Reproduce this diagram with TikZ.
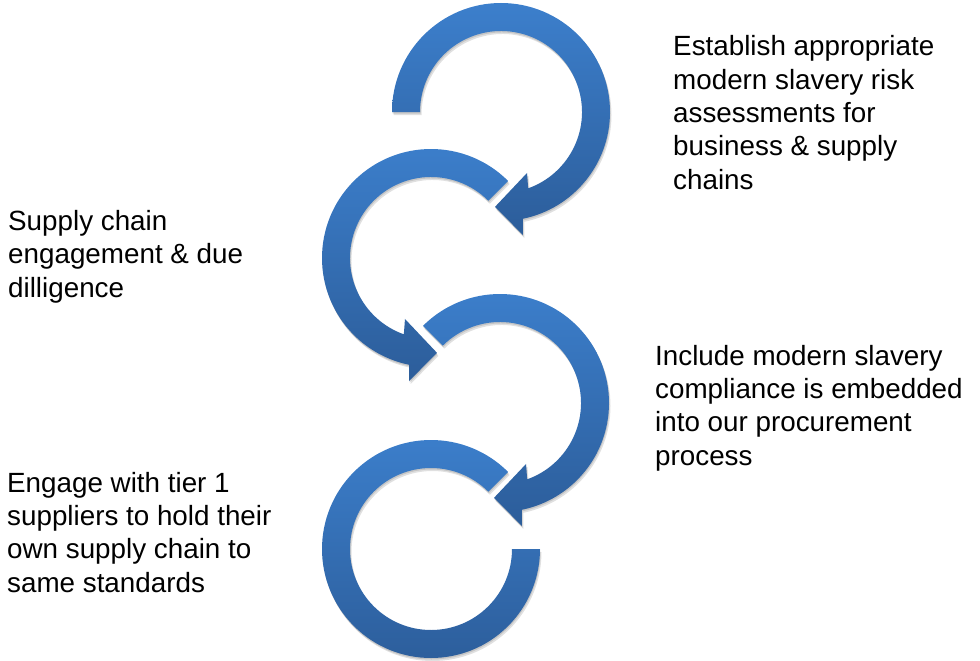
\documentclass[tikz,border=0pt]{standalone}
\usepackage{fontspec}
\setmainfont{Liberation Sans}
\definecolor{arrtop}{RGB}{60,127,204}
\definecolor{arrbot}{RGB}{44,93,154}
\newcommand\cpathA{(180:109) arc[start angle=180, end angle=-78.4, radius=109] -- (-79.9:125) -- (-93.6:95) -- (-66.9:66.3) -- (-70.4:81) arc[start angle=-70.4, end angle=180, radius=81] -- cycle}
\newcommand\cpathB{(45:109) arc[start angle=45, end angle=258.4, radius=109] -- (259.9:125) -- (273.6:95) -- (246.9:66.3) -- (250.4:81) arc[start angle=250.4, end angle=45, radius=81] -- cycle}
\newcommand\cpathC{(135:109) arc[start angle=135, end angle=-78.4, radius=109] -- (-79.9:125) -- (-93.6:95) -- (-66.9:66.3) -- (-70.4:81) arc[start angle=-70.4, end angle=135, radius=81] -- cycle}
\newcommand\cpathD{(45:109) arc[start angle=45, end angle=360, radius=109] -- (360:81) arc[start angle=360, end angle=45, radius=81] -- cycle}
\begin{document}
\begin{tikzpicture}[x=1pt,y=1pt,
  lbl/.style={anchor=base west, inner sep=0pt, align=left, font=\fontsize{27.8}{33.3}\selectfont, text=black},
  shad/.style={fill=black, opacity=0.12},
  arr/.style={top color=arrtop, bottom color=arrbot}]
\useasboundingbox (0,0) rectangle (980,-661);
% shadows
\foreach \cx/\cy/\p in {501/-112/A, 431/-258/B, 500/-403/C, 431/-549/D}{
  \begin{scope}[shift={(\cx+1.5,\cy-3)}]
    \fill[shad] \csname cpath\p\endcsname;
  \end{scope}
  \begin{scope}[shift={(\cx+0.5,\cy-1.5)}]
    \fill[shad] \csname cpath\p\endcsname;
  \end{scope}
}
% arrows
\begin{scope}[shift={(501,-112)}] \shade[arr] \cpathA; \end{scope}
\begin{scope}[shift={(431,-258)}] \shade[arr] \cpathB; \end{scope}
\begin{scope}[shift={(500,-403)}] \shade[arr] \cpathC; \end{scope}
\begin{scope}[shift={(431,-549)}] \shade[arr] \cpathD; \end{scope}
% labels (anchor = baseline of the last line)
\node[lbl] (t1) at (673,-189) {Establish appropriate\\modern slavery risk\\assessments for\\business \& supply\\chains};
\node[lbl] (t2) at (8,-297) {Supply chain\\engagement \& due\\dilligence};
\node[lbl] (t3) at (655,-465) {Include modern slavery\\compliance is embedded\\into our procurement\\process};
\node[lbl] (t4) at (7,-592) {Engage with tier 1\\suppliers to hold their\\own supply chain to\\same standards};
\end{tikzpicture}
\end{document}
